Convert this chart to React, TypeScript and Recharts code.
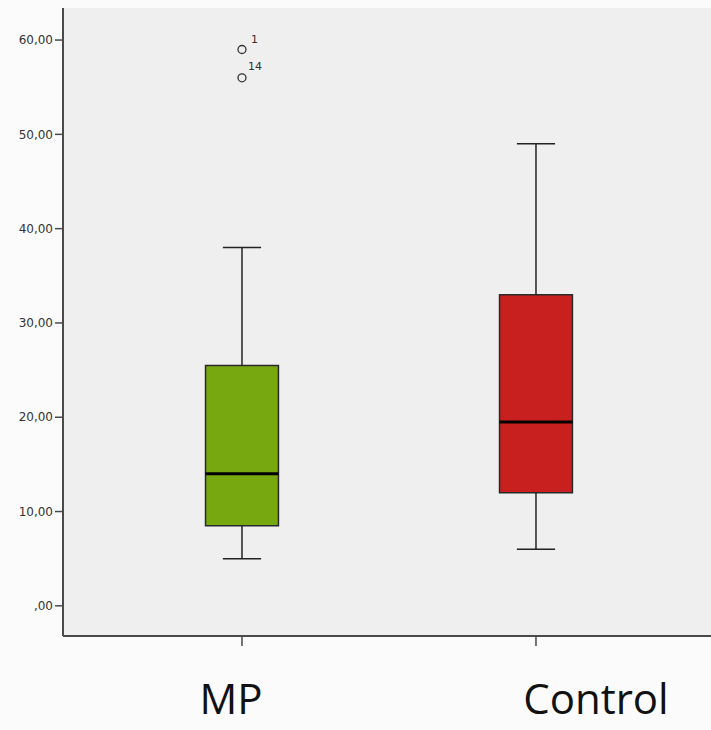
import React from "react";
import {
  ComposedChart,
  XAxis,
  YAxis,
  CartesianGrid,
  ReferenceArea,
  ReferenceLine,
  Scatter,
} from "recharts";

// ---- data ----
const categories = ["MP", "Control"];
const positions = [1, 2];
const whiskerLow = [5, 6];
const q1 = [8.5, 12];
const median = [14, 19.5];
const q3 = [25.5, 33];
const whiskerHigh = [38, 49];
const outlierValues = [59, 56];
const outlierCategory = [1, 1];
const outlierLabels = ["1", "14"];
const yTicks = [0, 10, 20, 30, 40, 50, 60];

// ---- style ----
const boxColors = ["#78a810", "#c8201f"];
const labelOffsets = [-11, 60];
const BOX_HALF = 0.124;
const CAP_HALF = 0.065;

const outliers = outlierValues.map((v, i) => ({
  x: outlierCategory[i],
  y: v,
  label: outlierLabels[i],
}));

const OutlierShape = (props: any) => {
  const { cx, cy, payload } = props;
  if (cx == null || cy == null) return null;
  const first = payload.label === "1";
  return (
    <g>
      <circle cx={cx} cy={cy} r={4} fill="none" stroke="#333" strokeWidth={1.3} />
      <text
        x={cx + (first ? 9 : 6)}
        y={cy - (first ? 6 : 8)}
        fontSize={11}
        fontFamily="DejaVu Sans, sans-serif"
        fill="#333"
      >
        {payload.label}
      </text>
    </g>
  );
};

const CategoryTick = (props: any) => {
  const { x, y, payload } = props;
  const i = positions.indexOf(payload.value);
  return (
    <text
      x={x + (labelOffsets[i] ?? 0)}
      y={y + 66}
      textAnchor="middle"
      fontSize={42}
      fontFamily="Open Sans, sans-serif"
      fill="#111"
    >
      {categories[i] ?? ""}
    </text>
  );
};

const fmt = (v: number) => (v === 0 ? ",00" : `${v},00`);

export default function App() {
  return (
    <div style={{ position: "absolute", left: 0, top: 0, width: 711, height: 730, background: "#fbfbfb" }}>
      <ComposedChart
        width={711}
        height={730}
        margin={{ top: 8, right: 0, bottom: 0, left: 0 }}
        data={outliers}
      >
        <CartesianGrid fill="#efefef" horizontal={false} vertical={false} stroke="none" />
        <XAxis
          xAxisId="main"
          type="number"
          dataKey="x"
          domain={[0.3912, 2.5953]}
          ticks={positions}
          height={94}
          tickSize={10}
          tickMargin={2}
          axisLine={{ stroke: "#4a4a4a", strokeWidth: 2 }}
          tickLine={{ stroke: "#4a4a4a", strokeWidth: 1.5 }}
          tick={<CategoryTick />}
          allowDataOverflow
        />
        <XAxis
          xAxisId="top"
          orientation="top"
          type="number"
          domain={[0, 1]}
          height={0}
          tick={false}
          tickLine={false}
          axisLine={{ stroke: "#4a4a4a", strokeWidth: 2 }}
        />
        <YAxis
          type="number"
          domain={[-3.2, 63.4]}
          ticks={yTicks}
          tickFormatter={fmt}
          width={63}
          tickSize={8}
          tickMargin={2}
          allowDataOverflow
          axisLine={{ stroke: "#4a4a4a", strokeWidth: 2 }}
          tickLine={{ stroke: "#4a4a4a", strokeWidth: 1.5 }}
          tick={{ fontSize: 12, fill: "#333", fontFamily: "DejaVu Sans, sans-serif" }}
        />
        {positions.map((p, i) => (
          <ReferenceLine
            key={`wl${i}`}
            xAxisId="main"
            segment={[
              { x: p, y: whiskerLow[i] },
              { x: p, y: q1[i] },
            ]}
            stroke="#222"
            strokeWidth={1.5}
          />
        ))}
        {positions.map((p, i) => (
          <ReferenceLine
            key={`wh${i}`}
            xAxisId="main"
            segment={[
              { x: p, y: q3[i] },
              { x: p, y: whiskerHigh[i] },
            ]}
            stroke="#222"
            strokeWidth={1.5}
          />
        ))}
        {positions.map((p, i) => (
          <ReferenceLine
            key={`cl${i}`}
            xAxisId="main"
            segment={[
              { x: p - CAP_HALF, y: whiskerLow[i] },
              { x: p + CAP_HALF, y: whiskerLow[i] },
            ]}
            stroke="#222"
            strokeWidth={1.5}
          />
        ))}
        {positions.map((p, i) => (
          <ReferenceLine
            key={`ch${i}`}
            xAxisId="main"
            segment={[
              { x: p - CAP_HALF, y: whiskerHigh[i] },
              { x: p + CAP_HALF, y: whiskerHigh[i] },
            ]}
            stroke="#222"
            strokeWidth={1.5}
          />
        ))}
        {positions.map((p, i) => (
          <ReferenceArea
            key={`box${i}`}
            xAxisId="main"
            x1={p - BOX_HALF}
            x2={p + BOX_HALF}
            y1={q1[i]}
            y2={q3[i]}
            fill={boxColors[i]}
            fillOpacity={1}
            stroke="#2a2a2a"
            strokeWidth={1.5}
          />
        ))}
        {positions.map((p, i) => (
          <ReferenceLine
            key={`med${i}`}
            xAxisId="main"
            segment={[
              { x: p - BOX_HALF, y: median[i] },
              { x: p + BOX_HALF, y: median[i] },
            ]}
            stroke="#000"
            strokeWidth={3}
          />
        ))}
        <Scatter
          xAxisId="main"
          dataKey="y"
          data={outliers}
          shape={<OutlierShape />}
          isAnimationActive={false}
        />
      </ComposedChart>
    </div>
  );
}
